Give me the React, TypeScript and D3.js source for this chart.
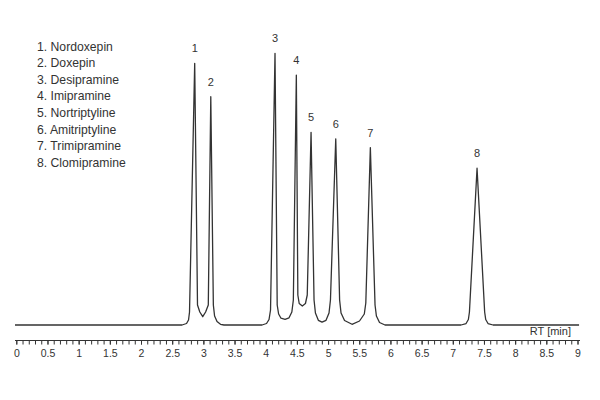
import { useEffect, useRef } from "react";
import * as d3 from "d3";

// chromatogram trace (RT in min, signal in % of tallest peak)
const rt = [
  -0.021, 2.658, 2.73, 2.762, 2.778, 2.861, 2.906, 2.943, 2.99, 3.036, 3.079, 3.119,
  3.16, 3.18, 3.219, 3.275, 3.331, 3.941, 4.013, 4.053, 4.077, 4.149, 4.184, 4.207,
  4.245, 4.31, 4.374, 4.419, 4.443, 4.491, 4.515, 4.537, 4.587, 4.637, 4.666, 4.727,
  4.775, 4.797, 4.844, 4.903, 4.967, 5.015, 5.038, 5.123, 5.185, 5.208, 5.264, 5.384,
  5.504, 5.581, 5.605, 5.678, 5.753, 5.775, 5.825, 5.913, 7.132, 7.213, 7.25, 7.267,
  7.389, 7.511, 7.528, 7.565, 7.646, 9.025,
];
const signal = [
  0, 0, 0.55, 1.84, 4.78, 96.3, 7.36, 4.78, 3.05, 4.78, 7.36, 84.0,
  7.36, 3.31, 1.29, 0.26, 0, 0, 0.55, 2.02, 5.52, 100, 7.36, 4.05,
  2.5, 2.1, 2.65, 4.78, 9.2, 92.0, 11.04, 7.91, 6.99, 7.91, 11.04, 70.9,
  9.2, 4.42, 1.73, 1.03, 1.73, 4.42, 9.2, 68.5, 9.2, 4.42, 1.66, 0.26,
  1.47, 4.05, 8.1, 65.3, 7.36, 3.31, 0.92, 0, 0, 0.55, 2.02, 4.78,
  57.7, 4.78, 2.02, 0.55, 0, 0,
];

// peak apexes
const peakRt = [2.861, 3.119, 4.149, 4.491, 4.727, 5.123, 5.678, 7.389];
const peakHeight = [96.3, 84.0, 100, 92.0, 70.9, 68.5, 65.3, 57.7];
const peakIds = ["1", "2", "3", "4", "5", "6", "7", "8"];

const compounds = [
  "Nordoxepin",
  "Doxepin",
  "Desipramine",
  "Imipramine",
  "Nortriptyline",
  "Amitriptyline",
  "Trimipramine",
  "Clomipramine",
];

const majorTicks = [0, 0.5, 1, 1.5, 2, 2.5, 3, 3.5, 4, 4.5, 5, 5.5, 6, 6.5, 7, 7.5, 8, 8.5, 9];

const width = 600;
const height = 400;
const font = "'Liberation Sans', Arial, sans-serif";
const ink = "#333";

export default function App() {
  const axisRef = useRef<SVGGElement>(null);

  const x = d3.scaleLinear().domain([0, 9]).range([16.3, 577.5]);
  const y = d3.scaleLinear().domain([0, 100]).range([325, 53.3]);

  const points = rt.map((t, i) => [t, signal[i]] as [number, number]);
  const line = d3
    .line<[number, number]>()
    .x((d) => x(d[0]))
    .y((d) => y(d[1]))
    .curve(d3.curveLinear);

  useEffect(() => {
    const g = d3.select(axisRef.current);
    g.selectAll("*").remove();

    const minor = d3.range(0, 90.5, 1).map((v) => v / 10);
    g.append("g")
      .call(d3.axisBottom(x).tickValues(minor).tickSize(4).tickSizeOuter(0).tickFormat(() => ""))
      .call((s) => s.select(".domain").remove());

    g.append("g")
      .call(
        d3
          .axisBottom(x)
          .tickValues(majorTicks)
          .tickSize(4)
          .tickSizeOuter(0)
          .tickPadding(5)
          .tickFormat((d) => d3.format("~g")(d as number))
      )
      .call((s) => s.select(".domain").remove());

    g.selectAll("line").attr("stroke", ink).attr("stroke-width", 1);
    g.selectAll("text")
      .attr("fill", ink)
      .attr("font-family", font)
      .attr("font-size", 10.5);

    g.append("line")
      .attr("x1", 15)
      .attr("x2", 580)
      .attr("y1", 0)
      .attr("y2", 0)
      .attr("stroke", ink)
      .attr("stroke-width", 1.2);
  }, []);

  return (
    <svg
      width={width}
      height={height}
      style={{ position: "absolute", left: 0, top: 0, background: "#fff" }}
      fontFamily={font}
    >
      <path d={line(points) ?? ""} fill="none" stroke={ink} strokeWidth={1.3} strokeLinejoin="round" />

      {peakIds.map((id, i) => (
        <text
          key={id}
          x={x(peakRt[i])}
          y={y(peakHeight[i]) - 11}
          textAnchor="middle"
          fontSize={11}
          fill={ink}
        >
          {id}
        </text>
      ))}

      <g fontSize={12.2} fill={ink}>
        {compounds.map((c, i) => (
          <text key={c} x={37} y={50.5 + i * 16.6}>
            {`${i + 1}. ${c}`}
          </text>
        ))}
      </g>

      <text x={571} y={335} textAnchor="end" fontSize={11} fill={ink}>
        RT [min]
      </text>

      <g ref={axisRef} transform="translate(0,340.5)" />
    </svg>
  );
}
